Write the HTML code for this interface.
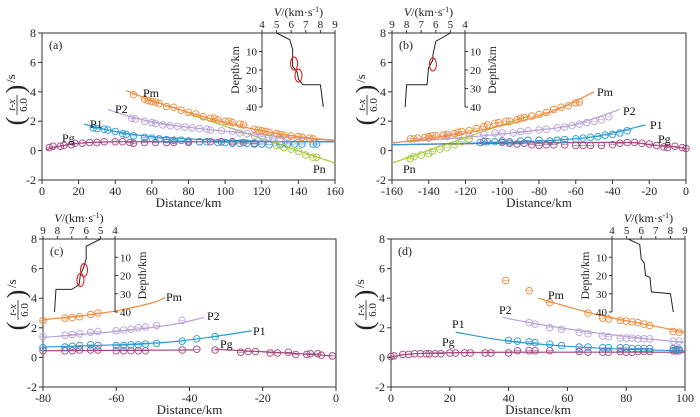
<!DOCTYPE html>
<html><head><meta charset="utf-8"><style>
body{margin:0;background:#fff}
svg{display:block;font-family:"Liberation Serif",serif}
</style></head><body>
<svg id="chart" width="700" height="417" viewBox="0 0 700 417" xmlns="http://www.w3.org/2000/svg"></svg>
<script>
// ---- Panel (a) data ----
const aPmLine=[[46,4.1],[60,3.4],[80,2.6],[100,1.9],[120,1.35],[140,0.95],[160,0.7]];
const aP2Line=[[36,2.8],[50,2.25],[70,1.75],[90,1.45],[110,1.2],[130,0.95],[160,0.68]];
const aP1Line=[[23,1.8],[40,1.3],[60,0.95],[80,0.8],[100,0.7],[130,0.62],[160,0.6]];
const aPgLine=[[2,0.05],[10,0.3],[20,0.5],[40,0.6],[80,0.6],[120,0.6],[160,0.6]];
const aPnLine=[[80,2.5],[160,-0.85]];
const aPmPts=[[50,3.8],[56,3.5],[58,3.4],[60,3.35],[62,3.3],[64,3.2],[68,3.0],[72,2.95],[76,2.75],[80,2.6],[84,2.5],[88,2.3],[92,2.2],[94,2.2],[96,2.1],[100,2.0],[102,2.0],[104,1.9],[108,1.8],[110,1.75],[116,1.45],[118,1.4],[120,1.35],[122,1.3],[124,1.25],[128,1.15],[130,1.1],[132,1.05],[136,1.0],[140,0.95],[142,0.9],[146,0.85],[148,0.8]];
const aP2Pts=[[49,2.2],[51,2.15],[56,2.0],[60,1.9],[62,1.85],[66,1.75],[70,1.7],[74,1.65],[78,1.6],[82,1.55],[86,1.5],[90,1.45],[92,1.4],[98,1.35],[104,1.3],[108,1.2],[112,1.15],[116,1.0],[120,0.95],[124,0.9],[126,0.85],[130,0.8],[134,0.75]];
const aP1Pts=[[28,1.55],[30,1.5],[34,1.45],[36,1.4],[40,1.3],[44,1.15],[46,1.1],[50,1.0],[56,0.9],[60,0.85],[64,0.8],[68,0.75],[72,0.7],[76,0.7],[80,0.65],[86,0.6],[90,0.6],[96,0.55],[100,0.55],[104,0.5],[108,0.5],[112,0.5],[116,0.45],[120,0.45],[124,0.4],[130,0.4],[134,0.45],[138,0.45],[142,0.45],[148,0.45],[150,0.45]];
const aPgPts=[[4,0.2],[6,0.3],[10,0.3],[12,0.35],[16,0.4],[18,0.5],[22,0.5],[26,0.55],[30,0.55],[34,0.6],[40,0.6],[44,0.6],[48,0.55],[50,0.5],[56,0.55],[62,0.55],[68,0.55],[72,0.55],[80,0.55],[86,0.6],[92,0.6],[98,0.6],[104,0.6],[110,0.55],[116,0.5],[120,0.45]];
const aPnPts=[[128,0.35],[132,0.2],[136,0.1],[140,-0.05],[144,-0.3],[148,-0.45],[150,-0.45]];
const aVel=[[5.0,0],[5.9,3.6],[6.1,9],[6.1,12.7],[6.1,18],[6.4,21],[6.5,25],[6.8,28],[8.0,28],[8.2,40]];
const aEll=[[6.2,16.5],[6.5,23]];
// ---- Panel (b) data ----
const bPmLine=[[-160,0.5],[-120,1.2],[-90,2.0],[-70,2.8],[-50,4.0]];
const bP2Line=[[-160,0.55],[-120,0.9],[-80,1.4],[-60,1.8],[-36,2.8]];
const bP1Line=[[-160,0.4],[-120,0.5],[-80,0.65],[-50,0.95],[-22,1.75]];
const bPgLine=[[-160,0.4],[-100,0.5],[-60,0.55],[-30,0.55],[-20,0.4],[-10,0.3],[0,0.15]];
const bPnLine=[[-160,-0.85],[-85,2.4]];
const bPmPts=[[-150,0.8],[-146,0.85],[-142,0.9],[-140,0.95],[-138,1.0],[-136,1.0],[-132,1.05],[-130,1.1],[-126,1.15],[-124,1.25],[-122,1.3],[-118,1.35],[-114,1.5],[-110,1.65],[-108,1.75],[-104,1.85],[-102,1.9],[-98,2.0],[-96,2.0],[-92,2.1],[-90,2.2],[-88,2.25],[-84,2.35],[-80,2.45],[-76,2.6],[-72,2.8],[-68,2.95],[-64,3.05],[-60,3.25],[-58,3.3]];
const bP2Pts=[[-148,0.8],[-140,0.85],[-130,0.95],[-124,1.0],[-118,1.0],[-110,1.1],[-104,1.2],[-100,1.2],[-94,1.2],[-90,1.3],[-86,1.35],[-80,1.4],[-76,1.45],[-70,1.55],[-66,1.6],[-62,1.7],[-58,1.8],[-54,1.9],[-50,2.0],[-46,2.1],[-42,2.3]];
const bP1Pts=[[-112,0.55],[-108,0.6],[-104,0.6],[-100,0.65],[-96,0.6],[-90,0.65],[-86,0.7],[-80,0.7],[-74,0.65],[-70,0.7],[-66,0.75],[-60,0.8],[-56,0.85],[-52,0.9],[-48,0.95],[-44,1.05],[-40,1.1],[-36,1.2],[-32,1.35]];
const bPgPts=[[-110,0.6],[-100,0.55],[-96,0.5],[-92,0.45],[-88,0.5],[-84,0.4],[-80,0.35],[-76,0.4],[-72,0.4],[-66,0.4],[-60,0.35],[-56,0.35],[-52,0.35],[-46,0.35],[-40,0.4],[-36,0.5],[-32,0.55],[-28,0.55],[-24,0.5],[-20,0.45],[-16,0.35],[-12,0.25],[-10,0.2],[-6,0.3],[-2,0.2],[0,0.15]];
const bPnPts=[[-150,-0.55],[-148,-0.4],[-144,-0.3],[-140,-0.2],[-138,-0.05],[-134,0.1],[-130,0.2],[-126,0.4],[-122,0.6],[-118,0.8]];
const bVel=[[5.0,0],[6.0,4.5],[6.2,12],[6.2,14.5],[6.5,19],[6.6,28],[8.0,28],[8.1,40]];
const bEll=[[6.2,17]];
// ---- Panel (c) data ----
const cPmLine=[[-80,2.55],[-70,2.8],[-60,3.15],[-50,3.7],[-46.6,4.05]];
const cP2Line=[[-80,1.35],[-60,1.75],[-45,2.2],[-36,2.7]];
const cP1Line=[[-80,0.7],[-60,0.85],[-45,1.05],[-35,1.35],[-23,1.8]];
const cPgLine=[[-80,0.45],[-39,0.5]];
const cPgLine2=[[-33,0.55],[-20,0.38],[-10,0.25],[-1,0.1]];
const cPmPts=[[-80,2.5],[-74,2.65],[-72,2.7],[-70,2.75],[-67,2.9],[-65,3.0]];
const cP2Pts=[[-80,1.4],[-74,1.5],[-72,1.55],[-70,1.6],[-67,1.7],[-65,1.75],[-60,1.8],[-58,1.85],[-56,1.9],[-54,2.0],[-52,2.05],[-49,2.15],[-42,2.5]];
const cP1Pts=[[-80,0.65],[-74,0.7],[-72,0.75],[-70,0.8],[-67,0.85],[-65,0.8],[-60,0.8],[-58,0.8],[-56,0.85],[-54,0.85],[-52,0.9],[-49,0.95],[-42,1.1],[-38,1.25],[-33,1.4]];
const cPgPts=[[-80,0.45],[-74,0.45],[-72,0.45],[-70,0.5],[-67,0.5],[-65,0.5],[-60,0.45],[-58,0.45],[-56,0.45],[-54,0.45],[-52,0.45],[-42,0.5],[-38,0.55],[-33,0.5],[-26,0.35],[-24,0.4],[-22,0.4],[-18,0.3],[-16,0.3],[-13,0.35],[-11,0.2],[-8,0.2],[-7,0.25],[-5,0.25],[-4,0.15],[-1,0.1]];
const cVel=[[5.0,0],[6.0,4],[6.0,11],[6.2,16],[6.4,19.5],[6.5,25],[7.0,27.6],[8.1,27.6],[8.2,40]];
const cEll=[[6.15,17],[6.4,22.5]];
// ---- Panel (d) data ----
const dPmLine=[[50,4.0],[70,2.9],[90,2.1],[100,1.7]];
const dP2Line=[[38,2.7],[50,2.25],[70,1.65],[90,1.2],[100,1.0]];
const dP1Line=[[22,1.7],[40,1.1],[60,0.75],[80,0.55],[100,0.45]];
const dPgLine=[[0,0],[5,0.2],[15,0.3],[40,0.35],[100,0.35]];
const dPmPts=[[39,5.2],[47,4.5],[54,3.7],[67,3.0],[72,2.65],[74,2.6],[78,2.5],[80,2.45],[82,2.4],[84,2.35],[86,2.25],[88,2.15],[96,1.75],[98,1.7]];
const dP2Pts=[[47,2.35],[49,2.25],[54,2.0],[58,1.9],[64,1.7],[67,1.6],[72,1.45],[74,1.4],[78,1.3],[80,1.3],[82,1.3],[84,1.25],[86,1.25],[88,1.25],[96,1.1],[98,1.1]];
const dP1Pts=[[40,1.15],[43,1.1],[47,1.05],[49,1.0],[54,0.9],[58,0.8],[64,0.7],[67,0.7],[72,0.65],[74,0.65],[78,0.65],[80,0.65],[82,0.6],[84,0.6],[86,0.6],[88,0.6],[96,0.6],[97,0.55],[98,0.55]];
const dPgPts=[[0,0.05],[1,0.1],[4,0.2],[6,0.2],[8,0.25],[10,0.25],[12,0.25],[13,0.25],[15,0.25],[17,0.25],[20,0.3],[22,0.3],[25,0.3],[27,0.3],[32,0.3],[34,0.3],[40,0.3],[43,0.45],[47,0.45],[49,0.45],[54,0.45],[64,0.4],[67,0.35],[72,0.35],[74,0.35],[78,0.4],[80,0.35],[82,0.35],[84,0.4],[86,0.4],[88,0.4],[96,0.45],[97,0.45],[98,0.45]];
const dVel=[[5.1,0],[5.9,3],[6.0,11],[6.2,13],[6.3,20],[6.6,21],[6.7,29],[8.0,30],[8.2,40]];
const dEll=[];
const yTicks=[-2,0,2,4,6,8];
const aXTicks=[0,20,40,60,80,100,120,140,160];
const bXTicks=[-160,-140,-120,-100,-80,-60,-40,-20,0];
const cXTicks=[-80,-60,-40,-20,0];
const dXTicks=[0,20,40,60,80,100];
const vTicks=[4,5,6,7,8,9];
const depthTicks=[10,20,30,40];

const COL={Pm:'#f08a3c',P2:'#b9a2d6',P1:'#2e9ad4',Pg:'#a4487f',Pn:'#a6cb3c'};
const svg=document.getElementById('chart');
const NS='http://www.w3.org/2000/svg';
function mk(tag,attrs,parent,text){const e=document.createElementNS(NS,tag);for(const k in attrs)e.setAttribute(k,attrs[k]);if(text!==undefined)e.textContent=text;(parent||svg).appendChild(e);return e;}
function smooth(p){if(p.length<3)return 'M'+p.map(q=>q.join(',')).join('L');let d='M'+p[0][0]+','+p[0][1];for(let i=0;i<p.length-1;i++){const p0=p[i-1]||p[i],p1=p[i],p2=p[i+1],p3=p[i+2]||p2;d+='C'+(p1[0]+(p2[0]-p0[0])/6)+','+(p1[1]+(p2[1]-p0[1])/6)+' '+(p2[0]-(p3[0]-p1[0])/6)+','+(p2[1]-(p3[1]-p1[1])/6)+' '+p2[0]+','+p2[1];}return d;}

function panel(o){
  const g=mk('g',{},svg);
  const sx=v=>o.x0+(v-o.xmin)/(o.xmax-o.xmin)*(o.x1-o.x0);
  const sy=v=>o.y1-(v+2)/10*(o.y1-o.y0);
  const fr=mk('rect',{x:o.x0,y:o.y0,width:o.x1-o.x0,height:o.y1-o.y0,fill:'none',stroke:'#333','stroke-width':1},g);
  
  yTicks.forEach(t=>{mk('line',{x1:o.x0-4,x2:o.x0,y1:sy(t),y2:sy(t),stroke:'#333'},g);
    const tx=mk('text',{x:o.x0-6,y:sy(t)+4,'text-anchor':'end','font-size':12,fill:'#222'},g,t);
    });
  o.xt.forEach(t=>{mk('line',{x1:sx(t),x2:sx(t),y1:o.y1,y2:o.y1+4,stroke:'#333'},g);
    const tx=mk('text',{x:sx(t),y:o.y1+15,'text-anchor':'middle','font-size':12,fill:'#222'},g,t);
    });
  const xl=mk('text',{x:(o.x0+o.x1)/2,y:o.y1+27,'text-anchor':'middle','font-size':13,fill:'#222'},g,'Distance/km');
  
  const yl=mk('g',{transform:`translate(${o.x0-25},${o.ylc}) rotate(-90)`},g);
  
  mk('text',{x:-21,y:7,'font-size':26,'text-anchor':'middle',fill:'#222'},yl,'(');
  mk('text',{x:-5,y:-2,'font-size':11,'text-anchor':'middle','font-style':'italic',fill:'#222'},yl,'t-x');
  mk('line',{x1:-15,x2:5,y1:0,y2:0,stroke:'#222','stroke-width':0.8},yl);
  mk('text',{x:-5,y:10,'font-size':11,'text-anchor':'middle',fill:'#222'},yl,'6.0');
  mk('text',{x:11,y:7,'font-size':26,'text-anchor':'middle',fill:'#222'},yl,')');
  mk('text',{x:17,y:-2,'font-size':13,fill:'#222'},yl,'/s');
  const pl=mk('text',{x:o.x0+7,y:o.y0+16,'font-size':12,fill:'#222'},g,'('+o.id+')');
  
  o.lines.forEach(([name,data])=>{const p=mk('path',{d:smooth(data.map(q=>[sx(q[0]),sy(q[1])])),fill:'none',stroke:COL[name],'stroke-width':1.2},g);
    });
  o.pts.forEach(([name,data])=>{data.forEach(q=>{const c=mk('circle',{cx:sx(q[0]),cy:sy(q[1]),r:3.3,fill:'none',stroke:COL[name],'stroke-width':0.9},g);
    
    mk('line',{x1:sx(q[0])-3.3,x2:sx(q[0])+3.3,y1:sy(q[1]),y2:sy(q[1]),stroke:COL[name],'stroke-width':0.6},g);});});
  o.labels.forEach(([t,x,y])=>{const tx=mk('text',{x:x,y:y,'font-size':12,fill:'#111'},g,t);
    });
  const I=o.inset;const ig=mk('g',{},g);
  const vx=v=>I.vx4+(v-4)/5*(I.vx9-I.vx4);const dy=d=>o.y0+d/40*I.dh;
  mk('line',{x1:Math.min(I.vx4,I.vx9),x2:Math.max(I.vx4,I.vx9),y1:o.y0,y2:o.y0,stroke:'#333'},ig);
  vTicks.forEach(t=>{mk('line',{x1:vx(t),x2:vx(t),y1:o.y0,y2:o.y0-3,stroke:'#333'},ig);
    const tx=mk('text',{x:vx(t),y:o.y0-5,'text-anchor':'middle','font-size':11,fill:'#222'},ig,t);
    });
  const vl=mk('text',{x:(I.vx4+I.vx9)/2,y:o.y0-17,'text-anchor':'middle','font-size':12,fill:'#222'},ig);
  
  mk('tspan',{'font-style':'italic'},vl,'V');mk('tspan',{},vl,'/(km·s');mk('tspan',{dy:-4,'font-size':8},vl,'-1');mk('tspan',{dy:4},vl,')');
  const ax=vx(4);const side=I.vx4<I.vx9?-1:1;
  mk('line',{x1:ax,x2:ax,y1:o.y0,y2:o.y0+I.dh,stroke:'#333'},ig);
  depthTicks.forEach(t=>{mk('line',{x1:ax,x2:ax+3*side,y1:dy(t),y2:dy(t),stroke:'#333'},ig);
    const tx=mk('text',{x:ax+5*side,y:dy(t)+4,'text-anchor':side<0?'end':'start','font-size':11,fill:'#222'},ig,t);
    });
  const dl=mk('text',{transform:`translate(${ax+side*23},${o.y0+I.dh/2}) rotate(-90)`,'text-anchor':'middle','font-size':12,fill:'#222',dy:side<0?0:8},ig,'Depth/km');
  
  const vp=mk('polyline',{points:I.vel.map(q=>vx(q[0])+','+dy(q[1])).join(' '),fill:'none',stroke:'#222','stroke-width':1},ig);
  
  I.ell.forEach(q=>{const e=mk('ellipse',{cx:vx(q[0]),cy:dy(q[1]),rx:3.5,ry:6.5,fill:'none',stroke:'#e02020','stroke-width':1.1},ig);
    });
}
panel({id:'a',x0:42,x1:335,y0:33,y1:180,xmin:0,xmax:160,xt:aXTicks,ylc:100,
  lines:[['Pn',aPnLine],['Pg',aPgLine],['P1',aP1Line],['P2',aP2Line],['Pm',aPmLine]],
  pts:[['Pg',aPgPts],['P1',aP1Pts],['P2',aP2Pts],['Pm',aPmPts],['Pn',aPnPts]],
  labels:[['Pm',143,97],['P2',115,113],['P1',90,128],['Pg',62,142],['Pn',313,173]],
  inset:{vx4:262,vx9:335,dh:74,vel:aVel,ell:aEll}});
panel({id:'b',x0:392,x1:686,y0:33,y1:180,xmin:-160,xmax:0,xt:bXTicks,ylc:100,
  lines:[['Pn',bPnLine],['Pg',bPgLine],['P1',bP1Line],['P2',bP2Line],['Pm',bPmLine]],
  pts:[['Pg',bPgPts],['P1',bP1Pts],['P2',bP2Pts],['Pm',bPmPts],['Pn',bPnPts]],
  labels:[['Pm',597,96],['P2',623,115],['P1',650,129],['Pg',658,143],['Pn',403,173]],
  inset:{vx4:465,vx9:392,dh:74,vel:bVel,ell:bEll}});
panel({id:'c',x0:43,x1:336,y0:239,y1:387,xmin:-80,xmax:0,xt:cXTicks,ylc:305,
  lines:[['Pg',cPgLine],['Pg',cPgLine2],['P1',cP1Line],['P2',cP2Line],['Pm',cPmLine]],
  pts:[['Pg',cPgPts],['P1',cP1Pts],['P2',cP2Pts],['Pm',cPmPts]],
  labels:[['Pm',166,301],['P2',207,320],['P1',253,335],['Pg',220,348]],
  inset:{vx4:115,vx9:43,dh:73,vel:cVel,ell:cEll}});
panel({id:'d',x0:391,x1:685,y0:239,y1:387,xmin:0,xmax:100,xt:dXTicks,ylc:305,
  lines:[['Pg',dPgLine],['P1',dP1Line],['P2',dP2Line],['Pm',dPmLine]],
  pts:[['Pg',dPgPts],['P1',dP1Pts],['P2',dP2Pts],['Pm',dPmPts]],
  labels:[['Pm',548,299],['P2',499,314],['P1',452,328],['Pg',442,346]],
  inset:{vx4:612,vx9:685,dh:73,vel:dVel,ell:dEll}});
</script>
</body></html>
